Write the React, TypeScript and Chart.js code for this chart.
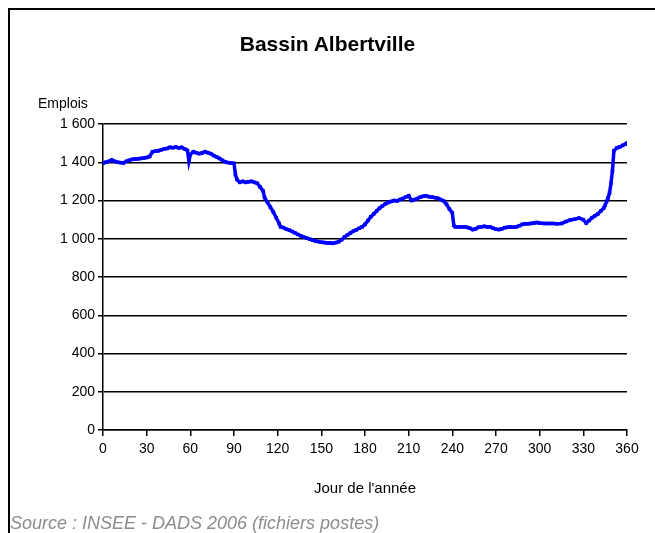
import React, { useEffect, useRef } from "react";
import { Chart, registerables } from "chart.js";

Chart.register(...registerables);

const chartTitle = "Bassin Albertville";
const yAxisTitle = "Emplois";
const xAxisTitle = "Jour de l'année";
const sourceText = "Source : INSEE - DADS 2006 (fichiers postes)";

const days = [
  0, 2, 4, 6, 8, 10, 12, 14, 16, 18, 20, 22, 24, 26, 28, 30, 32, 34, 36, 38, 40, 42, 44, 46, 48, 50,
  52, 54, 56, 58, 59, 60, 62, 64, 66, 68, 70, 72, 74, 76, 78, 80, 82, 84, 86, 88, 90, 91, 92, 94, 96,
  98, 100, 102, 104, 106, 108, 110, 111, 113, 115, 117, 119, 121, 122, 124, 126, 128, 130, 132, 134,
  136, 138, 140, 142, 144, 146, 148, 150, 152, 154, 156, 158, 160, 162, 164, 166, 168, 170, 172, 174,
  176, 178, 180, 182, 184, 186, 188, 190, 192, 194, 196, 198, 200, 202, 204, 206, 208, 210, 212, 214,
  216, 218, 220, 222, 224, 226, 228, 230, 232, 234, 236, 238, 240, 241, 242, 245, 248, 250, 252, 254,
  256, 258, 260, 262, 264, 266, 268, 270, 272, 274, 276, 278, 280, 282, 284, 286, 288, 290, 292, 294,
  296, 298, 300, 303, 306, 309, 312, 315, 318, 321, 324, 327, 330, 332, 334, 336, 338, 340, 342, 344,
  345, 346, 347, 348, 349, 350, 351, 353, 355, 357, 359, 360,
];

const emplois = [
  1395, 1400, 1405, 1412, 1405, 1400, 1398, 1396, 1405, 1410, 1415, 1417, 1418, 1420, 1422, 1425, 1430,
  1455, 1458, 1460, 1465, 1470, 1472, 1478, 1476, 1480, 1475, 1478, 1470, 1462, 1405, 1440, 1455, 1450,
  1445, 1448, 1455, 1450, 1445, 1435, 1428, 1420, 1410, 1402, 1398, 1396, 1394, 1335, 1310, 1295, 1300,
  1295, 1298, 1300, 1295, 1290, 1270, 1250, 1215, 1190, 1165, 1140, 1110, 1080, 1062, 1058, 1050, 1045,
  1038, 1030, 1022, 1015, 1008, 1003, 998, 993, 988, 985, 982, 980, 978, 978, 976, 980, 985, 995, 1010,
  1020, 1030, 1040, 1046, 1055, 1062, 1075, 1095, 1115, 1130, 1145, 1160, 1172, 1182, 1190, 1195, 1200,
  1198, 1205, 1210, 1218, 1225, 1200, 1205, 1210, 1218, 1222, 1225, 1220, 1218, 1215, 1212, 1205, 1198,
  1180, 1155, 1135, 1070, 1062, 1062, 1062, 1060, 1055, 1048, 1052, 1060, 1062, 1065, 1062, 1062, 1055,
  1050, 1048, 1052, 1058, 1060, 1062, 1060, 1062, 1068, 1075, 1078, 1078, 1080, 1082, 1085, 1082, 1080,
  1080, 1080, 1078, 1080, 1090, 1098, 1102, 1108, 1100, 1082, 1095, 1110, 1120, 1130, 1145, 1160, 1175,
  1195, 1213, 1240, 1290, 1355, 1460, 1475, 1480, 1488, 1495, 1500,
];

const xTickValues = [0, 30, 60, 90, 120, 150, 180, 210, 240, 270, 300, 330, 360];
const yTickValues = [0, 200, 400, 600, 800, 1000, 1200, 1400, 1600];
const yTickLabels = ["0", "200", "400", "600", "800", "1 000", "1 200", "1 400", "1 600"];

const FONT = "'Liberation Sans', Arial, sans-serif";

export default function App() {
  const canvasRef = useRef<HTMLCanvasElement>(null);

  useEffect(() => {
    const canvas = canvasRef.current;
    if (!canvas) return;
    const chart = new Chart(canvas, {
      type: "line",
      data: {
        datasets: [
          {
            data: days.map((d, i) => ({ x: d, y: emplois[i] })),
            borderColor: "#0000ff",
            backgroundColor: "#0000ff",
            borderWidth: 3.5,
            pointStyle: "rect",
            pointRadius: 2.5,
            pointBorderWidth: 0,
            pointBackgroundColor: "#0000ff",
            tension: 0,
            fill: false,
          },
        ],
      },
      options: {
        responsive: false,
        animation: false,
        layout: { padding: { left: 0, top: 124, right: 28, bottom: 0 } },
        plugins: {
          legend: { display: false },
          tooltip: { enabled: false },
          title: { display: false },
        },
        scales: {
          x: {
            type: "linear",
            min: 0,
            max: 360,
            afterBuildTicks: (s: any) => {
              s.ticks = xTickValues.map((v) => ({ value: v }));
            },
            afterFit: (s: any) => {
              s.height = 103;
            },
            ticks: {
              autoSkip: false,
              maxRotation: 0,
              color: "#000",
              font: { family: FONT, size: 14 },
              padding: 5,
            },
            grid: {
              drawOnChartArea: false,
              drawTicks: true,
              tickLength: 6,
              color: "#000",
              lineWidth: 1.5,
            },
            border: { color: "#000", width: 1.5 },
            title: {
              display: true,
              text: xAxisTitle,
              color: "#000",
              font: { family: FONT, size: 15 },
              padding: { top: 0, bottom: 35 },
            },
          },
          y: {
            type: "linear",
            min: 0,
            max: 1600,
            afterBuildTicks: (s: any) => {
              s.ticks = yTickValues.map((v) => ({ value: v }));
            },
            afterFit: (s: any) => {
              s.width = 103;
            },
            ticks: {
              autoSkip: false,
              color: "#000",
              font: { family: FONT, size: 14 },
              padding: 3,
              callback: (v: any) => {
                const i = yTickValues.indexOf(Number(v));
                return i >= 0 ? yTickLabels[i] : "";
              },
            },
            grid: {
              drawOnChartArea: true,
              drawTicks: true,
              tickLength: 5,
              color: "#000",
              lineWidth: 1.5,
            },
            border: { color: "#000", width: 1.5 },
          },
        },
      },
    });
    return () => chart.destroy();
  }, []);

  return (
    <div style={{ position: "fixed", left: 0, top: 0, width: 655, height: 533, background: "#fff", overflow: "hidden" }}>
      <div
        style={{
          position: "absolute",
          left: 8,
          top: 8,
          width: 700,
          height: 600,
          borderTop: "2px solid #000",
          borderLeft: "2px solid #000",
          boxSizing: "border-box",
        }}
      />
      <canvas
        ref={canvasRef}
        width={655}
        height={533}
        style={{ position: "absolute", left: 0, top: 0, width: 655, height: 533 }}
      />
      <div
        style={{
          position: "absolute",
          left: 0,
          width: 655,
          top: 33,
          textAlign: "center",
          fontFamily: FONT,
          fontWeight: "bold",
          fontSize: 21,
          lineHeight: "22px",
          color: "#000",
        }}
      >
        {chartTitle}
      </div>
      <div
        style={{
          position: "absolute",
          left: 38,
          top: 95,
          fontFamily: FONT,
          fontSize: 14,
          lineHeight: "16px",
          color: "#000",
        }}
      >
        {yAxisTitle}
      </div>
      <div
        style={{
          position: "absolute",
          left: 10,
          top: 513,
          fontFamily: FONT,
          fontStyle: "italic",
          fontSize: 18,
          lineHeight: "20px",
          color: "#8c8c8c",
          whiteSpace: "nowrap",
        }}
      >
        {sourceText}
      </div>
    </div>
  );
}
